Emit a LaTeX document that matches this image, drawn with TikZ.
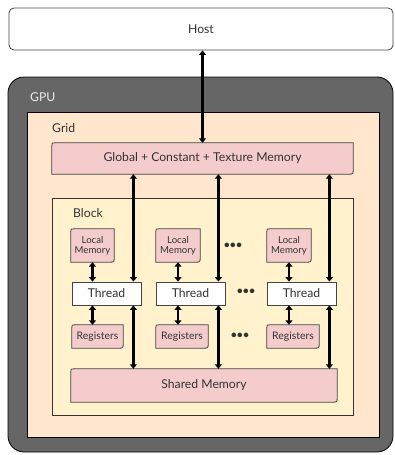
\documentclass[tikz,border=0pt]{standalone}
\usepackage{fontspec}
\setmainfont{Lato}
\usetikzlibrary{arrows.meta,calc}
\pgfdeclarelayer{bg}
\pgfdeclarelayer{mid}
\pgfsetlayers{bg,mid,main}
\definecolor{gpugray}{HTML}{666666}
\definecolor{gridfill}{HTML}{FFE6CC}
\definecolor{blockfill}{HTML}{FFF2CC}
\definecolor{memfill}{HTML}{F4CCCC}
\definecolor{txt}{HTML}{333333}
\definecolor{edge}{HTML}{444444}
\tikzset{
  box/.style={rectangle, inner sep=0pt, text=txt, font=\fontsize{12.2}{14}\selectfont},
  mem/.style={box},
  small/.style={font=\fontsize{9.6}{11}\selectfont, align=center},
  regfont/.style={font=\fontsize{10.4}{12}\selectfont},
  arr/.style={line width=2.6pt, {Triangle[length=4.5pt,width=7pt]}-{Triangle[length=4.5pt,width=7pt]}},
  memline/.style={draw=edge, fill=memfill, line width=0.8pt},
  dots/.style={inner sep=0pt, text=txt, font=\fontsize{10.5}{12}\bfseries}
}
% pink memory box: small rounding top-left, larger rounding bottom-right
\newcommand\membox[1]{%
  \begin{pgfonlayer}{mid}
  \path[memline] ([yshift=-3pt]#1.north west) .. controls (#1.north west) .. ([xshift=3pt]#1.north west)
    -- (#1.north east) -- ([yshift=5pt]#1.south east) .. controls (#1.south east) .. ([xshift=-5pt]#1.south east)
    -- (#1.south west) -- cycle;
  \end{pgfonlayer}}
\begin{document}
\begin{tikzpicture}[x=1pt,y=-1pt]
\useasboundingbox (0,0) rectangle (395,455);

% host and the nested containers
\node[box, draw=edge, line width=0.8pt, fill=white, rounded corners=5pt,
      minimum width=384pt, minimum height=42pt] (host) at (201,29) {Host};
\begin{pgfonlayer}{bg}
\node[box, draw=black, line width=0.8pt, fill=gpugray, rounded corners=16pt,
      minimum width=385pt, minimum height=375pt] (gpu) at (200.5,264.5) {};
\node[box, draw=black, line width=0.8pt, fill=gridfill,
      minimum width=352pt, minimum height=325pt] (grid) at (203,274.5) {};
\node[box, draw=black!80, line width=0.8pt, fill=blockfill,
      minimum width=301pt, minimum height=217pt] (block) at (202.5,306.5) {};
\end{pgfonlayer}
\node[box, text=white!92!black, anchor=west] (gpulbl) at (30,97) {GPU};
\node[box, anchor=west] (gridlbl) at (52,128) {Grid};
\node[box, anchor=west] (blocklbl) at (73,213) {Block};

% global memory
\node[mem, minimum width=301pt, minimum height=31pt] (glob) at (202.5,158.5) {Global + Constant + Texture Memory};
\membox{glob}

% local memories
\node[mem, small, minimum width=43pt, minimum height=33pt] (loc1) at (92.5,245.5) {Local\\[-1pt]Memory};
\node[mem, small, minimum width=44pt, minimum height=33pt] (loc2) at (178,245.5) {Local\\[-1pt]Memory};
\node[mem, small, minimum width=44pt, minimum height=33pt] (loc3) at (289,245.5) {Local\\[-1pt]Memory};
\membox{loc1}\membox{loc2}\membox{loc3}

% threads
\node[box, draw=edge, line width=0.8pt, fill=white, minimum width=69pt, minimum height=23pt] (thr1) at (106.5,293.5) {Thread};
\node[box, draw=edge, line width=0.8pt, fill=white, minimum width=69pt, minimum height=23pt] (thr2) at (190.5,293.5) {Thread};
\node[box, draw=edge, line width=0.8pt, fill=white, minimum width=69pt, minimum height=23pt] (thr3) at (301.5,293.5) {Thread};

% registers
\node[mem, regfont, minimum width=51pt, minimum height=23pt] (reg1) at (97.5,336.5) {Registers};
\node[mem, regfont, minimum width=52pt, minimum height=23pt] (reg2) at (182,336.5) {Registers};
\node[mem, regfont, minimum width=52pt, minimum height=23pt] (reg3) at (293,336.5) {Registers};
\membox{reg1}\membox{reg2}\membox{reg3}

% shared memory
\node[mem, minimum width=266pt, minimum height=33pt] (shared) at (204,385.5) {Shared Memory};
\membox{shared}

% ellipses between columns
\node[dots] (dl) at (233,246) {•••};
\node[dots] (dt) at (246,292) {•••};
\node[dots] (dr) at (240,336) {•••};

% connectors
\draw[arr] (host.south -| glob.north) -- (glob.north);
\coordinate (c1) at ([xshift=-8pt]thr1.north east);
\coordinate (c2) at ([xshift=-7pt]thr2.north east);
\coordinate (c3) at ([xshift=-7pt]thr3.north east);
\foreach \i in {1,2,3} {
  \draw[arr] (glob.south -| c\i) -- (thr\i.north -| c\i);
  \draw[arr] (thr\i.south -| c\i) -- (shared.north -| c\i);
  \draw[arr] (loc\i.south) -- (thr\i.north -| loc\i.south);
  \draw[arr] (thr\i.south -| loc\i.south) -- (reg\i.north -| loc\i.south);
}
\end{tikzpicture}
\end{document}
